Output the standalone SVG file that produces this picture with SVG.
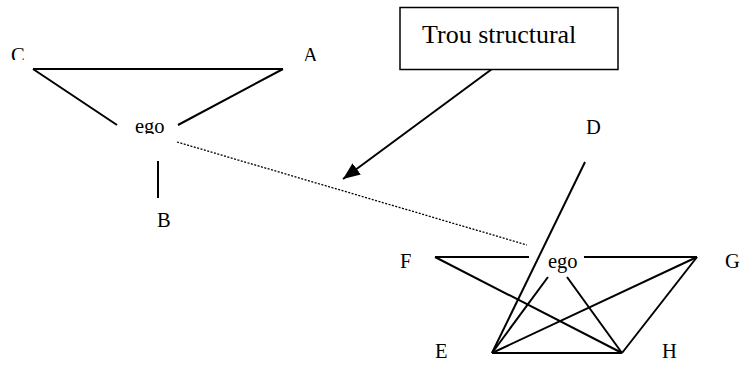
<svg xmlns="http://www.w3.org/2000/svg" width="746" height="365" viewBox="0 0 746 365">
<style>
.lbl{font-family:"Liberation Serif","Times New Roman",serif;font-size:20.5px;fill:#000}
.box{font-family:"Liberation Serif","Times New Roman",serif;font-size:26px;fill:#000}
.e{stroke:#000;stroke-width:2;fill:none;stroke-linecap:butt}
.dot{stroke:#000;stroke-width:1.3;stroke-dasharray:2 1.5;fill:none}
</style>
<defs>
<marker id="ah" viewBox="0 0 10 10" refX="10" refY="5" markerWidth="8.5" markerHeight="7" markerUnits="strokeWidth" orient="auto" preserveAspectRatio="none">
<path d="M0,0 L10,5 L0,10 z" fill="#000"/>
</marker>
<clipPath id="cC"><rect x="0" y="40" width="40" height="20"/></clipPath>
<clipPath id="cA"><rect x="295" y="40" width="40" height="21"/></clipPath>
<clipPath id="cEgo"><rect x="125" y="110" width="50" height="24"/></clipPath>
<clipPath id="cB"><rect x="145" y="205" width="30" height="22"/></clipPath>
</defs>
<rect width="746" height="365" fill="#fff"/>
<g id="connectors">
<line class="e" x1="33" y1="69" x2="283" y2="69"/>
<line class="e" x1="33" y1="69" x2="117" y2="125"/>
<line class="e" x1="283" y1="69" x2="178" y2="125"/>
<line class="e" x1="158" y1="161" x2="158" y2="198"/>
<line class="dot" x1="177" y1="142" x2="527" y2="245"/>
<line class="e" x1="492" y1="69" x2="343" y2="179" marker-end="url(#ah)"/>
<line class="e" x1="585" y1="162" x2="492" y2="353"/>
<line class="e" x1="435" y1="257" x2="529" y2="257"/>
<line class="e" x1="584" y1="257" x2="697" y2="257"/>
<line class="e" x1="435" y1="257" x2="622" y2="353"/>
<line class="e" x1="492" y1="353" x2="622" y2="353"/>
<line class="e" x1="697" y1="257" x2="492" y2="353"/>
<line class="e" x1="697" y1="257" x2="622" y2="353"/>
<line class="e" x1="548" y1="277" x2="492" y2="353"/>
<line class="e" x1="567" y1="277" x2="622" y2="353"/>
</g>
<g id="box-trou">
<rect x="400" y="7.5" width="218" height="62" fill="#fff" stroke="#000" stroke-width="1.5"/>
<text class="box" x="422" y="43">Trou structural</text>
</g>
<g id="node-C"><text class="lbl" x="11" y="62" clip-path="url(#cC)">C</text></g>
<g id="node-A"><text class="lbl" x="303" y="62" clip-path="url(#cA)">A</text></g>
<g id="node-ego1"><text class="lbl" x="135" y="133" clip-path="url(#cEgo)">ego</text></g>
<g id="node-B"><text class="lbl" x="157" y="227" clip-path="url(#cB)">B</text></g>
<g id="node-D"><text class="lbl" x="586" y="133.5">D</text></g>
<g id="node-F"><text class="lbl" x="400" y="268">F</text></g>
<g id="node-ego2"><text class="lbl" x="548" y="268">ego</text></g>
<g id="node-G"><text class="lbl" x="725" y="268">G</text></g>
<g id="node-E"><text class="lbl" x="435" y="358">E</text></g>
<g id="node-H"><text class="lbl" x="662" y="358">H</text></g>
</svg>
